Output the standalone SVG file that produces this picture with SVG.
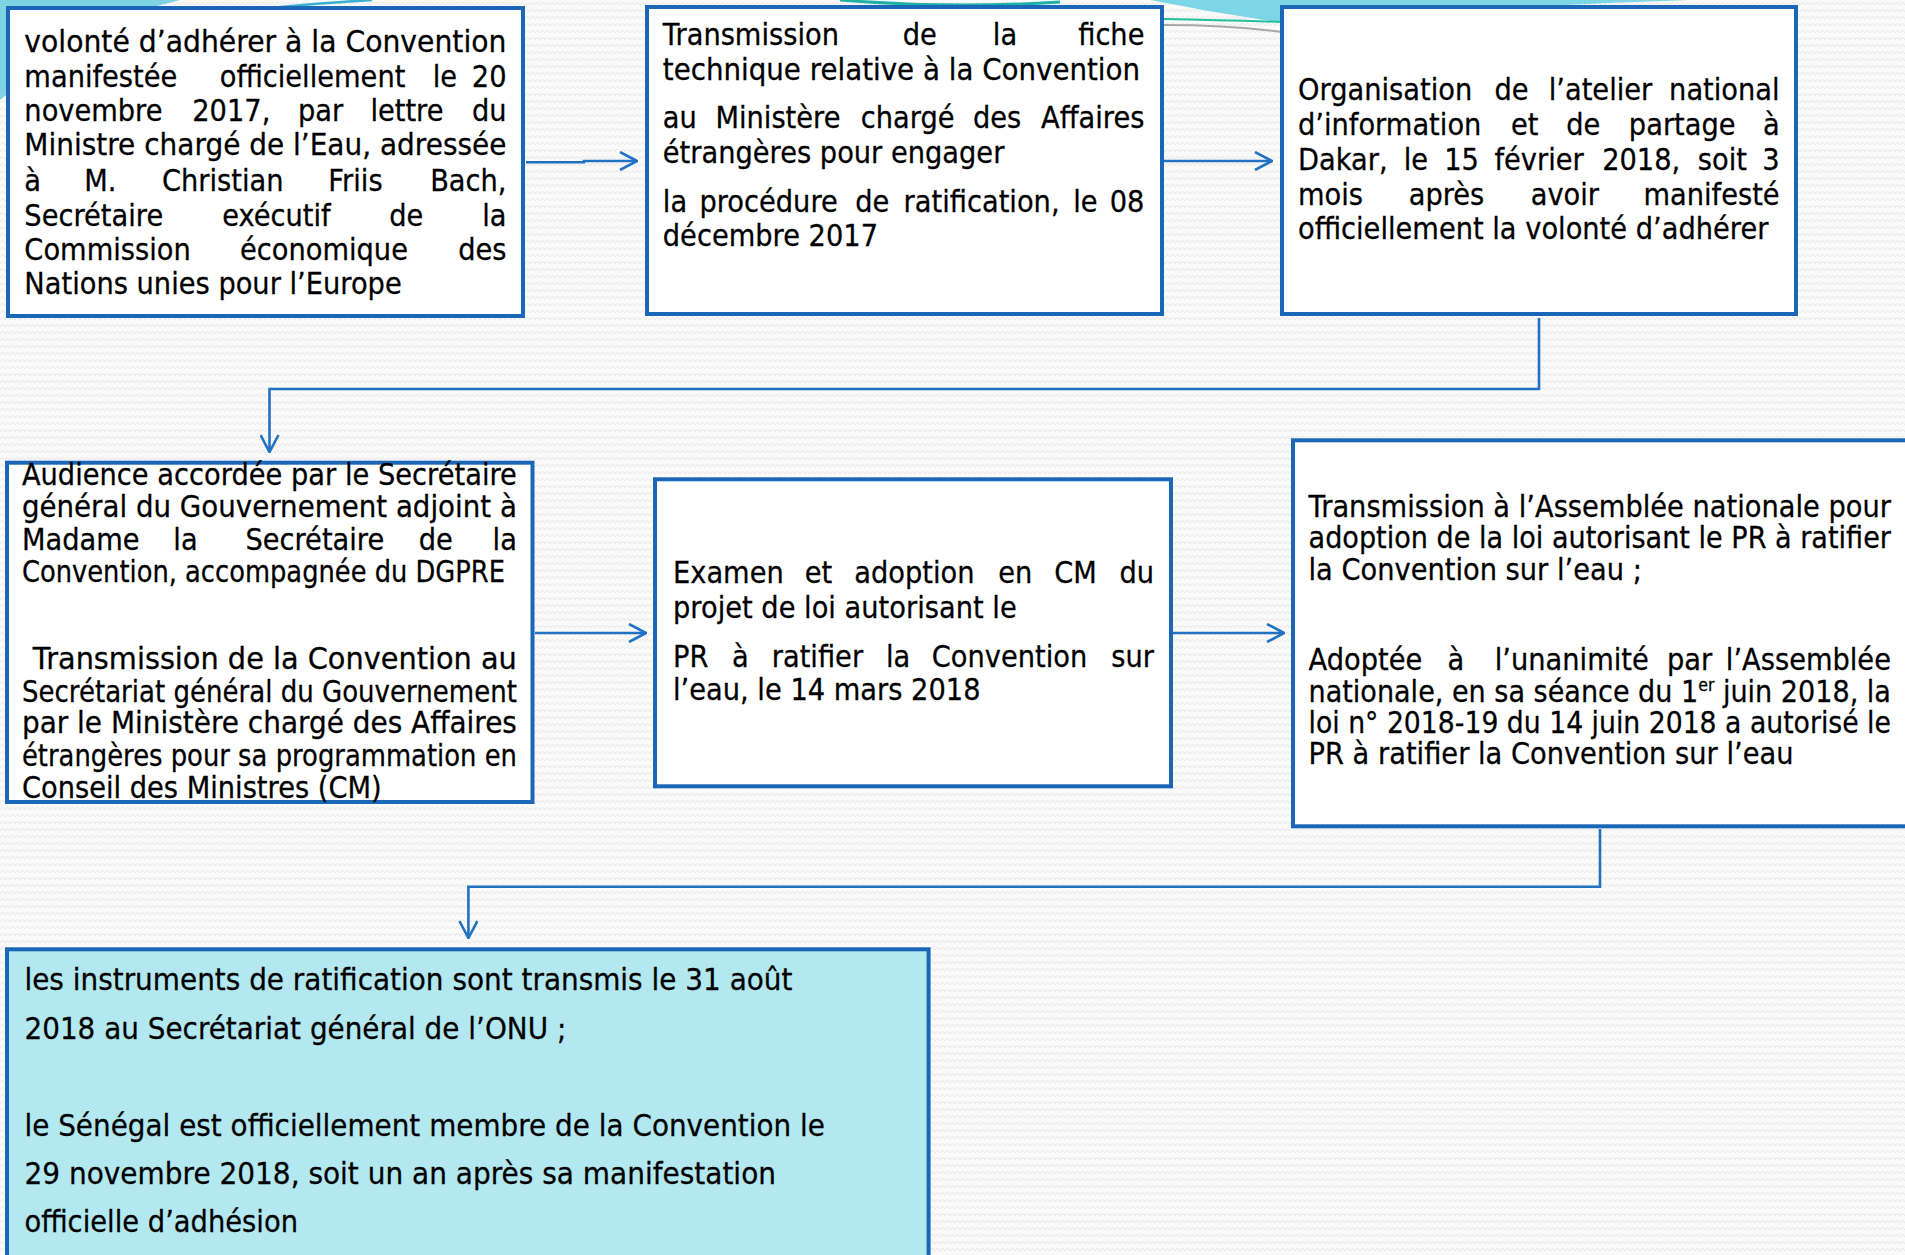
<svg xmlns="http://www.w3.org/2000/svg" width="1905" height="1255" viewBox="0 0 1905 1255">
<style>
.box{fill:#ffffff;stroke:#1a67b8;stroke-width:4}
.box7{fill:#b3e8f0;stroke:#1a67b8;stroke-width:4}
text{font-family:"DejaVu Sans","Liberation Sans",sans-serif;font-size:31px;fill:#000;stroke:#000;stroke-width:0.3px}
.e{text-anchor:end}
.conn{fill:none;stroke:#2272c3;stroke-width:2.6}
.sup{font-size:18px}
</style>
<defs>
<pattern id="bgp" width="10" height="7" patternUnits="userSpaceOnUse"><path d="M0,5 L2.5,2 L5,5 L7.5,2 L10,5" fill="none" stroke="#e4e4e4" stroke-width="0.9"/></pattern>
<marker id="ah" viewBox="0 0 20 20" refX="19" refY="10" markerWidth="20" markerHeight="20" markerUnits="userSpaceOnUse" orient="auto"><path d="M2,1 L19,10 L2,19" fill="none" stroke="#2272c3" stroke-width="2.6"/></marker>
</defs>
<rect width="1905" height="1255" fill="#fafafa"/>
<rect width="1905" height="1255" fill="url(#bgp)"/>
<g id="decor">
<path d="M0,0 H180 Q90,20 0,100 Z" fill="#7fd3e3"/>
<path d="M270,8 Q320,3 372,0" fill="none" stroke="#3ab0d0" stroke-width="2.5"/>
<path d="M840,0 Q950,9 1060,2" fill="none" stroke="#1fb0a8" stroke-width="3"/>
<path d="M1150,0 H1690 Q1500,6 1290,24 Q1220,14 1150,0 Z" fill="#7dd6e6"/>
<path d="M1164,19 Q1220,20 1282,22" fill="none" stroke="#20c09a" stroke-width="2"/>
<path d="M1164,25 Q1230,25 1282,32" fill="none" stroke="#a8a8a8" stroke-width="2"/>
</g>
<g id="node1">
<rect class="box" x="8" y="8" width="515" height="308"/>
<g transform="scale(0.88 1)">
<text x="27.7" y="51.7" textLength="547.8" lengthAdjust="spacingAndGlyphs">volonté d’adhérer à la Convention</text>
<text y="86.7"><tspan x="27.7">manifestée </tspan><tspan x="249.7">officiellement </tspan><tspan x="491.7">le </tspan><tspan x="575.6" class="e">20</tspan></text>
<text y="120.7"><tspan x="27.7">novembre </tspan><tspan x="218.5">2017, </tspan><tspan x="338.6">par </tspan><tspan x="420.9">lettre </tspan><tspan x="575.6" class="e">du</tspan></text>
<text x="27.7" y="155" textLength="547.8" lengthAdjust="spacingAndGlyphs">Ministre chargé de l’Eau, adressée</text>
<text y="190.7"><tspan x="27.7">à </tspan><tspan x="95.7">M. </tspan><tspan x="184.1">Christian </tspan><tspan x="373.1">Friis </tspan><tspan x="575.6" class="e">Bach,</tspan></text>
<text y="225.7"><tspan x="27.7">Secrétaire </tspan><tspan x="252.5">exécutif </tspan><tspan x="442.4">de </tspan><tspan x="575.6" class="e">la</tspan></text>
<text y="260"><tspan x="27.7">Commission </tspan><tspan x="272.7">économique </tspan><tspan x="575.6" class="e">des</tspan></text>
<text x="27.7" y="294">Nations unies pour l’Europe</text>
</g>
</g>
<g id="node2">
<rect class="box" x="647" y="7" width="515" height="307"/>
<g transform="scale(0.88 1)">
<text y="45"><tspan x="753.2">Transmission </tspan><tspan x="1025.8">de </tspan><tspan x="1128.2">la </tspan><tspan x="1300.5" class="e">fiche</tspan></text>
<text x="753.2" y="80" textLength="542.3" lengthAdjust="spacingAndGlyphs">technique relative à la Convention</text>
<text y="128.3"><tspan x="753.2">au </tspan><tspan x="813">Ministère </tspan><tspan x="978.1">chargé </tspan><tspan x="1105.7">des </tspan><tspan x="1300.5" class="e">Affaires</tspan></text>
<text x="753.2" y="163.3">étrangères pour engager</text>
<text y="211.7"><tspan x="753.2">la </tspan><tspan x="794.8">procédure </tspan><tspan x="971.8">de </tspan><tspan x="1026.8">ratification, </tspan><tspan x="1219.5">le </tspan><tspan x="1300.5" class="e">08</tspan></text>
<text x="753.2" y="245.7">décembre 2017</text>
</g>
</g>
<g id="node3">
<rect class="box" x="1282" y="7" width="514" height="307"/>
<g transform="scale(0.88 1)">
<text y="100"><tspan x="1475">Organisation </tspan><tspan x="1698.2">de </tspan><tspan x="1759.9">l’atelier </tspan><tspan x="2022.3" class="e">national</tspan></text>
<text y="135"><tspan x="1475">d’information </tspan><tspan x="1717">et </tspan><tspan x="1779.8">de </tspan><tspan x="1851">partage </tspan><tspan x="2022.3" class="e">à</tspan></text>
<text y="170"><tspan x="1475">Dakar, </tspan><tspan x="1595.1">le </tspan><tspan x="1641.1">15 </tspan><tspan x="1698.2">février </tspan><tspan x="1820.6">2018, </tspan><tspan x="1929.3">soit </tspan><tspan x="2022.3" class="e">3</tspan></text>
<text y="205"><tspan x="1475">mois </tspan><tspan x="1600.8">après </tspan><tspan x="1739.4">avoir </tspan><tspan x="2022.3" class="e">manifesté</tspan></text>
<text x="1475" y="239.3">officiellement la volonté d’adhérer</text>
</g>
</g>
<g id="node4">
<rect class="box" x="7" y="462.7" width="525.5" height="339.3"/>
<g transform="scale(0.88 1)">
<text x="24.9" y="485" textLength="562.5" lengthAdjust="spacingAndGlyphs">Audience accordée par le Secrétaire</text>
<text x="24.9" y="516.7" textLength="562.5" lengthAdjust="spacingAndGlyphs">général du Gouvernement adjoint à</text>
<text y="550"><tspan x="24.9">Madame </tspan><tspan x="197">la </tspan><tspan x="278.9">Secrétaire </tspan><tspan x="475.9">de </tspan><tspan x="587.4" class="e">la</tspan></text>
<text x="24.9" y="581.7" textLength="549" lengthAdjust="spacingAndGlyphs">Convention, accompagnée du DGPRE</text>
<text x="37.3" y="669.3" textLength="550" lengthAdjust="spacingAndGlyphs">Transmission de la Convention au</text>
<text x="24.9" y="701.7" textLength="562.5" lengthAdjust="spacingAndGlyphs">Secrétariat général du Gouvernement</text>
<text x="24.9" y="733.3" textLength="562.5" lengthAdjust="spacingAndGlyphs">par le Ministère chargé des Affaires</text>
<text x="24.9" y="766" textLength="562.5" lengthAdjust="spacingAndGlyphs">étrangères pour sa programmation en</text>
<text x="24.9" y="797.7">Conseil des Ministres (CM)</text>
</g>
</g>
<g id="node5">
<rect class="box" x="655" y="479.3" width="516" height="307"/>
<g transform="scale(0.88 1)">
<text y="583.3"><tspan x="764.8">Examen </tspan><tspan x="914.4">et </tspan><tspan x="970.8">adoption </tspan><tspan x="1134.4">en </tspan><tspan x="1198.1">CM </tspan><tspan x="1311.4" class="e">du</tspan></text>
<text x="764.8" y="618.3">projet de loi autorisant le</text>
<text y="666.7"><tspan x="764.8">PR </tspan><tspan x="831.7">à </tspan><tspan x="877">ratifier </tspan><tspan x="1006.7">la </tspan><tspan x="1058.9">Convention </tspan><tspan x="1311.4" class="e">sur</tspan></text>
<text x="764.8" y="700">l’eau, le 14 mars 2018</text>
</g>
</g>
<g id="node6">
<rect class="box" x="1293" y="440.3" width="700" height="386"/>
<g transform="scale(0.88 1)">
<text x="1487" y="517.3" textLength="661.8" lengthAdjust="spacingAndGlyphs">Transmission à l’Assemblée nationale pour</text>
<text x="1487" y="548.3" textLength="661.8" lengthAdjust="spacingAndGlyphs">adoption de la loi autorisant le PR à ratifier</text>
<text x="1487" y="580">la Convention sur l’eau ;</text>
<text y="670"><tspan x="1487">Adoptée </tspan><tspan x="1644.8">à </tspan><tspan x="1698.6">l’unanimité </tspan><tspan x="1894.2">par </tspan><tspan x="2148.8" class="e">l’Assemblée</tspan></text>
<text x="1487" y="701.7" textLength="661.8" lengthAdjust="spacingAndGlyphs">nationale, en sa séance du 1<tspan class="sup" dy="-11">er</tspan><tspan dy="11"> juin 2018, la</tspan></text>
<text x="1487" y="733.3" textLength="661.8" lengthAdjust="spacingAndGlyphs">loi n° 2018-19 du 14 juin 2018 a autorisé le</text>
<text x="1487" y="764.3">PR à ratifier la Convention sur l’eau</text>
</g>
</g>
<g id="node7">
<rect class="box7" x="7" y="949.3" width="921.6" height="400"/>
<g transform="scale(0.88 1)">
<text x="27.8" y="990" textLength="872.7" lengthAdjust="spacingAndGlyphs">les instruments de ratification sont transmis le 31 août</text>
<text x="27.8" y="1039.3" textLength="615.7" lengthAdjust="spacingAndGlyphs">2018 au Secrétariat général de l’ONU ;</text>
<text x="27.8" y="1136" textLength="909.7" lengthAdjust="spacingAndGlyphs">le Sénégal est officiellement membre de la Convention le</text>
<text x="27.8" y="1184" textLength="854" lengthAdjust="spacingAndGlyphs">29 novembre 2018, soit un an après sa manifestation</text>
<text x="27.8" y="1231.7" textLength="310.9" lengthAdjust="spacingAndGlyphs">officielle d’adhésion</text>
</g>
</g>
<g id="connectors">
<path class="conn" d="M526,162.3 H584 V161 H637" marker-end="url(#ah)"/>
<path class="conn" d="M1164,161 H1272" marker-end="url(#ah)"/>
<path class="conn" d="M1539,318 V389 H269.5 V452" marker-end="url(#ah)"/>
<path class="conn" d="M535,633 H646" marker-end="url(#ah)"/>
<path class="conn" d="M1173,633 H1284" marker-end="url(#ah)"/>
<path class="conn" d="M1600,829 V886.7 H468.4 V938" marker-end="url(#ah)"/>
</g>
</svg>
